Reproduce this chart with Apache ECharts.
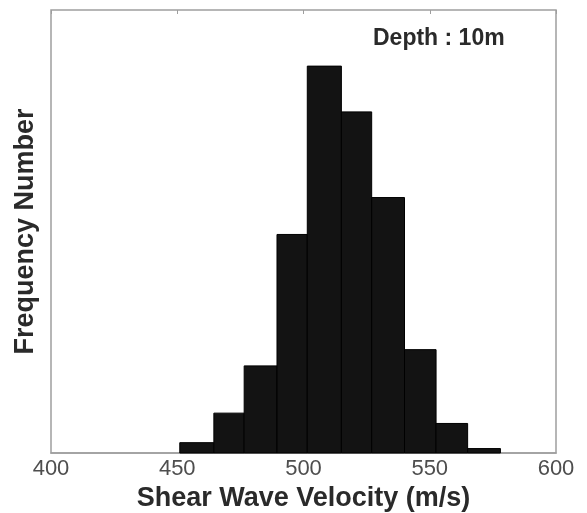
<!DOCTYPE html>
<html>
<head>
<meta charset="utf-8">
<script src="https://cdn.jsdelivr.net/npm/echarts@6/dist/echarts.min.js"></script>
<style>html,body{margin:0;padding:0;background:#fff;}#c{width:587px;height:513px;}</style>
</head>
<body>
<div id="c"></div>
<script>
// Bin edges (m/s)
const binEdges = [451, 464.5, 476.5, 489.5, 501.5, 515, 527, 540, 552.5, 565, 578];
// Frequency counts per bin (relative; y-axis unlabeled)
const counts = [7, 27, 59, 148, 262, 231, 173, 70, 20, 3];
const xTicks = [400, 450, 500, 550, 600];
const annotation = 'Depth : 10m';

const data = counts.map((c, i) => [binEdges[i], binEdges[i + 1], c]);
const font = '"Liberation Sans", Arial, sans-serif';

const chart = echarts.init(document.getElementById('c'), null, {renderer: 'canvas'});
chart.setOption({
  animation: false,
  backgroundColor: '#fff',
  grid: {left: 51, right: 31, top: 10, bottom: 60, outerBoundsMode: 'none', containLabel: false,
         show: true, borderColor: '#9e9e9e', borderWidth: 1.5, backgroundColor: '#fff'},
  xAxis: [{
    type: 'value', min: xTicks[0], max: xTicks[xTicks.length - 1], interval: 50,
    position: 'bottom',
    axisLine: {show: true, lineStyle: {color: '#9e9e9e', width: 1.5}},
    axisTick: {show: false},
    splitLine: {show: false},
    axisLabel: {color: '#4e4e4e', fontSize: 22, fontFamily: font, margin: 5},
    name: 'Shear Wave Velocity (m/s)', nameLocation: 'middle', nameGap: 30,
    nameTextStyle: {color: '#2a2a2a', fontSize: 27, fontWeight: 'bold', fontFamily: font}
  }, {
    type: 'value', min: xTicks[0], max: xTicks[xTicks.length - 1], interval: 50,
    position: 'top',
    axisLine: {show: false},
    axisTick: {show: true, inside: true, length: 4, lineStyle: {color: '#9e9e9e'}},
    axisLabel: {show: false},
    splitLine: {show: false}
  }],
  yAxis: {
    type: 'value', min: 0, max: 300,
    axisLine: {show: false}, axisTick: {show: false}, axisLabel: {show: false}, splitLine: {show: false},
    name: 'Frequency Number', nameLocation: 'middle', nameGap: 12,
    nameTextStyle: {color: '#2a2a2a', fontSize: 27, fontWeight: 'bold', fontFamily: font}
  },
  graphic: [{
    type: 'text', left: 373, top: 27,
    style: {text: annotation, fill: '#2a2a2a', font: 'bold 23px ' + font}
  }],
  series: [{
    type: 'custom',
    xAxisIndex: 0,
    renderItem: function (params, api) {
      const p0 = api.coord([api.value(0), api.value(2)]);
      const p1 = api.coord([api.value(1), 0]);
      return {
        type: 'rect',
        shape: {x: p0[0], y: p0[1], width: p1[0] - p0[0], height: p1[1] - p0[1]},
        style: {fill: '#131313', stroke: '#000', lineWidth: 1}
      };
    },
    encode: {x: [0, 1], y: 2},
    data: data
  }]
});
</script>
</body>
</html>
